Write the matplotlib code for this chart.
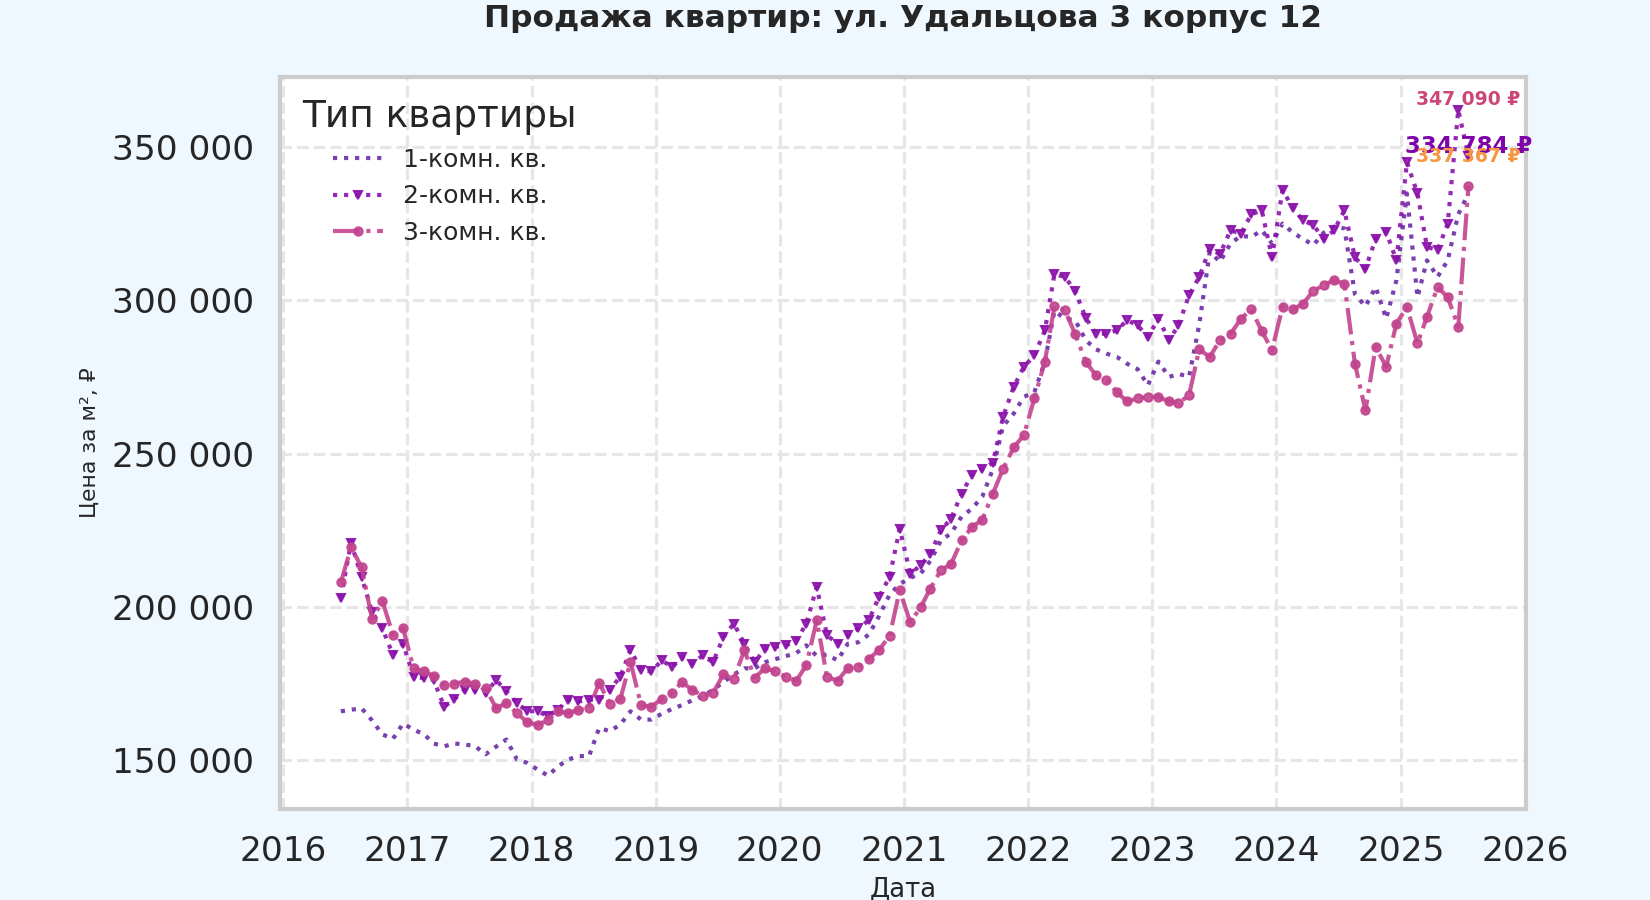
import matplotlib
matplotlib.use('Agg')
import matplotlib.pyplot as plt
import matplotlib.dates as mdates
from matplotlib.ticker import FuncFormatter
import pandas as pd
import seaborn as sns

# Monthly price per m2 (thousands of rubles), June 2016 - July 2025
dates = pd.date_range('2016-06-01', '2025-07-01', freq='MS') + pd.Timedelta(days=18)

one_room = [
    166.0, 166.5, 167.0, 163.0, 158.5, 157.0, 162.0,
    160.0, 158.5, 155.5, 154.6, 155.5, 155.2, 154.6, 152.0, 154.5, 156.8, 150.3, 149.2,
    147.0, 145.0, 148.0, 150.3, 151.4, 151.4, 160.6, 159.5, 161.7, 166.0, 163.3, 163.3,
    165.2, 166.8, 168.0, 169.6, 171.0, 173.0, 175.5, 178.0, 180.0, 180.0, 182.0, 183.0,
    184.0, 185.0, 187.5, 184.0, 184.5, 182.6, 188.0, 188.5, 191.0, 197.0, 204.0, 207.5,
    209.5, 211.0, 215.0, 221.7, 224.0, 229.5, 232.0, 236.0, 245.0, 259.0, 263.0, 268.5,
    270.0, 280.0, 296.5, 294.0, 293.5, 287.0, 284.0, 282.6, 281.5, 279.3, 277.5, 272.3,
    280.0, 275.0, 276.0, 275.0, 292.0, 315.8, 312.5, 318.5, 321.0, 320.6, 322.8, 318.5,
    325.0, 322.0, 320.0, 318.0, 322.0, 324.0, 323.4, 302.0, 298.0, 304.3, 294.0, 306.5,
    334.8, 301.0, 313.0, 307.6, 313.0, 328.0, 334.784,
]
two_room = [
    203.0, 221.0, 209.7, 198.4, 193.0, 184.5, 188.0,
    177.3, 176.8, 176.2, 167.5, 170.0, 173.0, 173.0, 171.9, 176.2, 172.5, 168.7, 166.0,
    166.0, 164.4, 166.5, 169.8, 169.2, 169.8, 169.8, 173.0, 177.3, 186.0, 179.5, 179.0,
    182.6, 180.4, 183.7, 181.5, 184.2, 182.0, 190.2, 194.6, 188.0, 182.0, 186.4, 187.0,
    187.5, 189.0, 194.6, 206.5, 190.8, 188.0, 190.8, 193.0, 195.7, 203.3, 209.8, 225.5,
    210.9, 213.6, 217.4, 225.0, 228.8, 237.0, 243.0, 245.0, 247.0, 262.0, 271.7, 278.3,
    282.0, 290.2, 308.5, 307.6, 303.0, 294.3, 289.1, 289.1, 290.2, 293.5, 291.8, 288.0,
    294.0, 287.0, 291.8, 301.6, 307.6, 316.8, 315.0, 322.8, 321.7, 328.0, 329.3, 314.0,
    335.9, 330.0, 326.0, 324.5, 320.0, 322.8, 329.3, 314.0, 310.3, 320.0, 322.3, 313.0,
    345.0, 334.8, 317.4, 316.3, 325.0, 362.0, 347.09,
]
three_room = [
    208.0, 219.4, 213.0, 196.0, 202.0, 191.0, 193.0,
    180.0, 179.0, 177.5, 174.6, 175.0, 175.7, 175.0, 173.5, 167.0, 168.7, 165.4, 162.5,
    161.5, 163.3, 166.0, 165.4, 166.5, 167.0, 175.2, 168.5, 170.0, 182.2, 168.0, 167.5,
    170.0, 172.0, 175.5, 173.0, 171.0, 172.0, 178.0, 176.6, 185.9, 177.0, 180.0, 179.0,
    177.2, 176.0, 181.0, 195.7, 177.2, 176.0, 180.0, 180.4, 183.0, 186.0, 190.5, 205.4,
    195.0, 200.0, 206.0, 212.0, 214.0, 221.7, 226.0, 228.5, 237.0, 245.0, 252.0, 256.0,
    268.0, 280.0, 298.0, 296.7, 289.0, 280.0, 275.5, 274.0, 270.0, 267.0, 268.0, 268.5,
    268.5, 267.0, 266.5, 269.0, 284.0, 281.5, 287.0, 289.0, 294.0, 297.0, 290.0, 283.7,
    297.8, 297.0, 298.9, 303.0, 305.0, 306.5, 305.4, 279.3, 264.1, 284.8, 278.3, 292.4,
    297.8, 285.9, 294.6, 304.3, 301.0, 291.3, 337.367,
]

labels = ['1-комн. кв.', '2-комн. кв.', '3-комн. кв.']
line_colors = ['#6a2ca6', '#8a12aa', '#c2448e']
label_colors = ['#7e03a8', '#cc4778', '#f89540']

# Styling
sns.set_theme(style='whitegrid', context='talk')
plt.rcParams['font.family'] = ['DejaVu Sans', 'Noto Sans']

fig = plt.figure(figsize=(11, 6), dpi=150, facecolor='#f0f8ff')
ax = fig.add_axes([0.1697, 0.1011, 0.7551, 0.8136])
ax.set_facecolor('white')

series = [one_room, two_room, three_room]
styles = [dict(linestyle=':', marker=None),
          dict(linestyle=':', marker='v', markersize=4),
          dict(linestyle='-.', marker='o', markersize=4)]

for vals, lab, col, st in zip(series, labels, line_colors, styles):
    ax.plot(dates, [v * 1000 for v in vals], color=col, linewidth=2,
            alpha=0.9, label=lab, **st)

# Last value labels
offsets = [47, 56, 29]
sizes = [11, 9, 9]
for vals, col, off, fs in zip(series, label_colors, offsets, sizes):
    last = vals[-1] * 1000
    txt = f'{last:,.0f} ₽'.replace(',', ' ')
    ax.annotate(txt, xy=(dates[-1], last), xytext=(0, off),
                textcoords='offset pixels', ha='center', va='center',
                color=col, fontsize=fs, fontweight='bold')

# Axes formatting
ax.set_xlim(pd.Timestamp('2015-12-23'), pd.Timestamp('2026-01-04'))
ax.yaxis.set_major_formatter(FuncFormatter(lambda x, p: f'{x:,.0f}'.replace(',', ' ')))
ax.xaxis.set_major_locator(mdates.YearLocator())
ax.xaxis.set_major_formatter(mdates.DateFormatter('%Y'))
ax.grid(True, linestyle='--', color='#e6e6e6', linewidth=1.5)
for sp in ax.spines.values():
    sp.set_color('#cccccc')
    sp.set_linewidth(2)

ax.set_title('Продажа квартир: ул. Удальцова 3 корпус 12', fontsize=15,
             fontweight='bold', pad=24)
ax.set_ylabel('Цена за м², ₽', fontsize=10.5, labelpad=6)
ax.set_xlabel('Дата', fontsize=12.5, labelpad=4)

ax.legend(title='Тип квартиры', loc='upper left', frameon=False,
          fontsize=12, title_fontsize=18)

fig.savefig('out.png', dpi=150, facecolor=fig.get_facecolor())
